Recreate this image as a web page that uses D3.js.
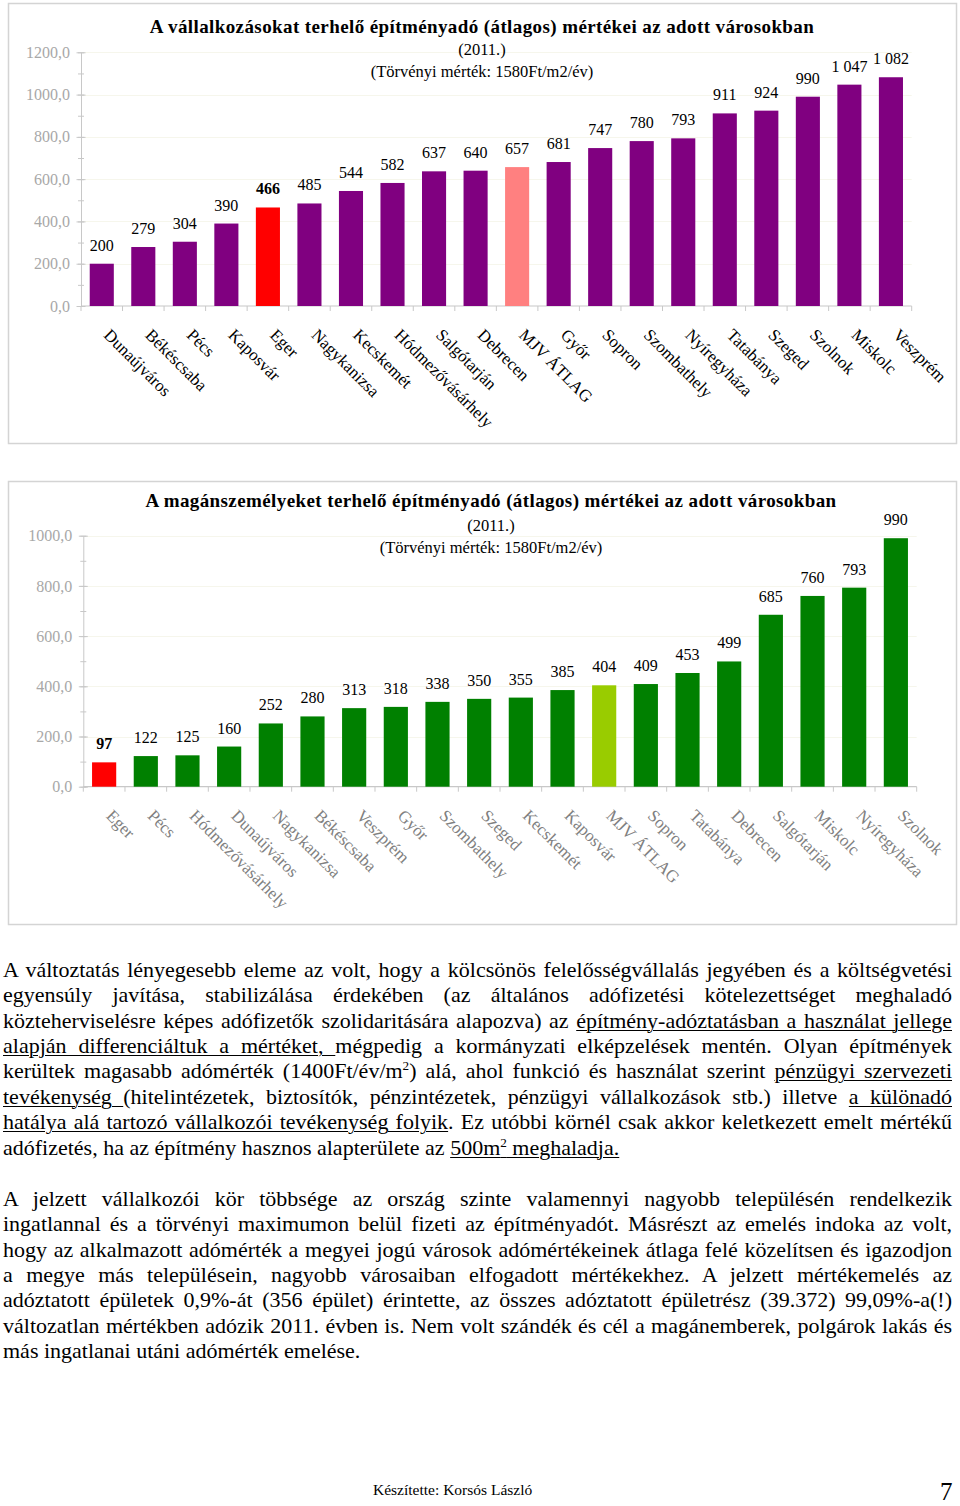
<!DOCTYPE html>
<html><head><meta charset="utf-8">
<script src="https://cdn.jsdelivr.net/npm/d3@7"></script>
<style>
body{margin:0;background:#fff;width:960px;height:1506px;position:relative;overflow:hidden;font-family:"Liberation Serif","Times New Roman",serif;color:#000;}
svg{position:absolute;left:0;top:0}
.line{position:absolute;left:3px;width:949px;font-size:22px;white-space:nowrap;text-align:left;text-align-last:left;line-height:25.45px;height:25.45px}
.line.just{text-align:justify;text-align-last:justify}
u{text-decoration:underline;text-underline-offset:2px;text-decoration-thickness:1px}
sup{font-size:0.6em;vertical-align:0;position:relative;top:-0.6em}
.foot{position:absolute;font-size:15.5px;}
</style></head>
<body>
<svg id="chart" width="960" height="1506"></svg>
<div id="text"></div>
<script>
// ---------- DATA ----------
const bizCities = ["Dunaújváros","Békéscsaba","Pécs","Kaposvár","Eger","Nagykanizsa","Kecskemét","Hódmezővásárhely","Salgótarján","Debrecen","MJV ÁTLAG","Győr","Sopron","Szombathely","Nyíregyháza","Tatabánya","Szeged","Szolnok","Miskolc","Veszprém"];
const bizValues = [200,279,304,390,466,485,544,582,637,640,657,681,747,780,793,911,924,990,1047,1082];
const bizTicks = [0,200,400,600,800,1000,1200];

const privCities = ["Eger","Pécs","Hódmezővásárhely","Dunaújváros","Nagykanizsa","Békéscsaba","Veszprém","Győr","Szombathely","Szeged","Kecskemét","Kaposvár","MJV ÁTLAG","Sopron","Tatabánya","Debrecen","Salgótarján","Miskolc","Nyíregyháza","Szolnok"];
const privValues = [97,122,125,160,252,280,313,318,338,350,355,385,404,409,453,499,685,760,793,990];
const privTicks = [0,200,400,600,800,1000];

const bizTitle = ["A vállalkozásokat terhelő építményadó (átlagos) mértékei az adott városokban","(2011.)","(Törvényi mérték: 1580Ft/m2/év)"];
const privTitle = ["A magánszemélyeket terhelő építményadó (átlagos) mértékei az adott városokban","(2011.)","(Törvényi mérték: 1580Ft/m2/év)"];

const para1 = [
 'A változtatás lényegesebb eleme az volt, hogy a kölcsönös felelősségvállalás jegyében és a költségvetési',
 'egyensúly javítása, stabilizálása érdekében (az általános adófizetési kötelezettséget meghaladó',
 'közteherviselésre képes adófizetők szolidaritására alapozva) az <u>építmény-adóztatásban a használat jellege</u>',
 '<u>alapján differenciáltuk a mértéket, </u>mégpedig a kormányzati elképzelések mentén. Olyan építmények',
 'kerültek magasabb adómérték (1400Ft/év/m<sup>2</sup>) alá, ahol funkció és használat szerint <u>pénzügyi szervezeti</u>',
 '<u>tevékenység </u>(hitelintézetek, biztosítók, pénzintézetek, pénzügyi vállalkozások stb.) illetve <u>a különadó</u>',
 '<u>hatálya alá tartozó vállalkozói tevékenység folyik</u>. Ez utóbbi körnél csak akkor keletkezett emelt mértékű',
 'adófizetés, ha az építmény hasznos alapterülete az <u>500m<sup>2</sup> meghaladja.</u>'
];
const para2 = [
 'A jelzett vállalkozói kör többsége az ország szinte valamennyi nagyobb településén rendelkezik',
 'ingatlannal és a törvényi maximumon belül fizeti az építményadót. Másrészt az emelés indoka az volt,',
 'hogy az alkalmazott adómérték a megyei jogú városok adómértékeinek átlaga felé közelítsen és igazodjon',
 'a megye más településein, nagyobb városaiban elfogadott mértékekhez. A jelzett mértékemelés az',
 'adóztatott épületek 0,9%-át (356 épület) érintette, az összes adóztatott épületrész (39.372) 99,09%-a(!)',
 'változatlan mértékben adózik 2011. évben is. Nem volt szándék és cél a magánemberek, polgárok lakás és',
 'más ingatlanai utáni adómérték emelése.'
];

// ---------- DRAW ----------
const svg = d3.select("#chart");
const fmtVal = v => { const s = String(v); return s.length > 3 ? s.slice(0, s.length-3) + " " + s.slice(-3) : s; };
const fmtTick = d => d.toFixed(1).replace(".", ",");
const FONT = "'Liberation Serif','Times New Roman',serif";

function drawChart(opt) {
  const g = svg.append("g");
  g.append("rect").attr("x", opt.frame[0]+0.5).attr("y", opt.frame[1]+0.5)
    .attr("width", opt.frame[2]-opt.frame[0]).attr("height", opt.frame[3]-opt.frame[1])
    .attr("fill", "#fff").attr("stroke", "#d4d4d4").attr("stroke-width", 1.5);

  const x = d3.scaleBand().domain(opt.cats).range(opt.xr).paddingInner(0.42).paddingOuter(0.21);
  const y = d3.scaleLinear().domain([0, d3.max(opt.ticks)]).range(opt.yr);

  g.append("g").selectAll("line").data(opt.ticks.slice(1)).join("line")
    .attr("x1", opt.xr[0]).attr("x2", opt.xr[1]).attr("y1", d => Math.round(y(d))+0.5).attr("y2", d => Math.round(y(d))+0.5)
    .attr("stroke", "#f6f6ec").attr("stroke-width", 1);

  const minor = d3.range(0, d3.max(opt.ticks)+1, 100);
  const ay = g.append("g").attr("transform", `translate(${opt.xr[0]},0)`)
    .call(d3.axisLeft(y).tickValues(minor).tickSize(0).tickFormat(""));
  ay.select(".domain").remove();
  ay.selectAll(".tick line").attr("x1", -3).attr("x2", 3).attr("stroke", "#c8c8c8");
  const ay2 = g.append("g").attr("transform", `translate(${opt.xr[0]},0)`)
    .call(d3.axisLeft(y).tickValues(opt.ticks).tickSize(0).tickPadding(11).tickFormat(fmtTick));
  ay2.select(".domain").attr("stroke", "#c8c8c8");
  ay2.selectAll(".tick line").attr("x1", -4.5).attr("x2", 4.5).attr("stroke", "#c8c8c8");
  ay2.selectAll(".tick text").attr("font-family", FONT).attr("font-size", 16).attr("fill", "#a8a8a8");

  const y0 = y(0);
  g.append("line").attr("x1", opt.xr[0]).attr("x2", opt.xr[1]).attr("y1", y0).attr("y2", y0)
    .attr("stroke", "#c8c8c8").attr("stroke-width", 1.2);
  g.append("g").selectAll("line").data(d3.range(opt.cats.length+1)).join("line")
    .attr("x1", i => opt.xr[0] + i*x.step()).attr("x2", i => opt.xr[0] + i*x.step())
    .attr("y1", y0).attr("y2", y0+5).attr("stroke", "#c8c8c8");

  g.append("g").selectAll("rect").data(opt.cats).join("rect")
    .attr("x", d => x(d)).attr("width", x.bandwidth())
    .attr("y", (d,i) => y(opt.vals[i])).attr("height", (d,i) => y0 - y(opt.vals[i]))
    .attr("fill", d => opt.colorOf(d));

  g.append("g").selectAll("text").data(opt.cats).join("text")
    .attr("x", d => x(d) + x.bandwidth()/2).attr("y", (d,i) => y(opt.vals[i]) - 13)
    .attr("text-anchor", "middle").attr("font-family", FONT).attr("font-size", 16)
    .attr("font-weight", d => d === "Eger" ? "bold" : "normal")
    .text((d,i) => fmtVal(opt.vals[i]));

  g.append("g").selectAll("text").data(opt.cats).join("text")
    .attr("transform", d => `translate(${x(d) + x.bandwidth()/2 + 1},${y0+30}) rotate(45)`)
    .attr("font-family", FONT).attr("font-size", 17).attr("fill", opt.catColor)
    .text(d => d);

  g.append("text").attr("x", opt.tx).attr("y", opt.ty[0]).attr("text-anchor", "middle")
    .attr("font-family", FONT).attr("font-size", 19).attr("font-weight", "bold").attr("letter-spacing", 0.4)
    .text(opt.title[0]);
  g.append("text").attr("x", opt.tx).attr("y", opt.ty[1]).attr("text-anchor", "middle")
    .attr("font-family", FONT).attr("font-size", 16.5).text(opt.title[1]);
  g.append("text").attr("x", opt.tx).attr("y", opt.ty[2]).attr("text-anchor", "middle")
    .attr("font-family", FONT).attr("font-size", 16.5).text(opt.title[2]);
}

drawChart({
  frame: [8, 3, 956, 443], cats: bizCities, vals: bizValues, ticks: bizTicks,
  xr: [81, 911.7], yr: [306, 52.3],
  colorOf: d => d === "Eger" ? "#ff0000" : d === "MJV ÁTLAG" ? "#ff8080" : "#800080",
  catColor: "#000", title: bizTitle, tx: 482, ty: [32.5, 55, 77]
});
drawChart({
  frame: [8, 481, 956, 924], cats: privCities, vals: privValues, ticks: privTicks,
  xr: [83.3, 916.7], yr: [786.7, 535.7],
  colorOf: d => d === "Eger" ? "#ff0000" : d === "MJV ÁTLAG" ? "#99cc00" : "#008000",
  catColor: "#808080", title: privTitle, tx: 491, ty: [507, 531, 553]
});

// ---------- TEXT ----------
const tbox = d3.select("#text");
function para(lines, top) {
  lines.forEach((l, i) => {
    const div = tbox.append("div").attr("class", "line").style("top", (top + i*25.45) + "px");
    const span = div.append("span").html(l);
    const w = span.node().getBoundingClientRect().width;
    const n = span.node().textContent.length;
    if (w > 949) div.style("letter-spacing", ((949 - w) / n) + "px");
    if (i < lines.length-1) div.classed("just", true);
  });
}
para(para1, 956.6);
para(para2, 1185.6);
tbox.append("div").attr("class", "foot").style("left", "373px").style("top", "1481px").text("Készítette: Korsós László");
tbox.append("div").attr("class", "foot").style("left", "940px").style("top", "1479px")
  .style("font-size", "25px").style("line-height", "25px").style("height", "25px").text("7");
</script>
</body></html>
